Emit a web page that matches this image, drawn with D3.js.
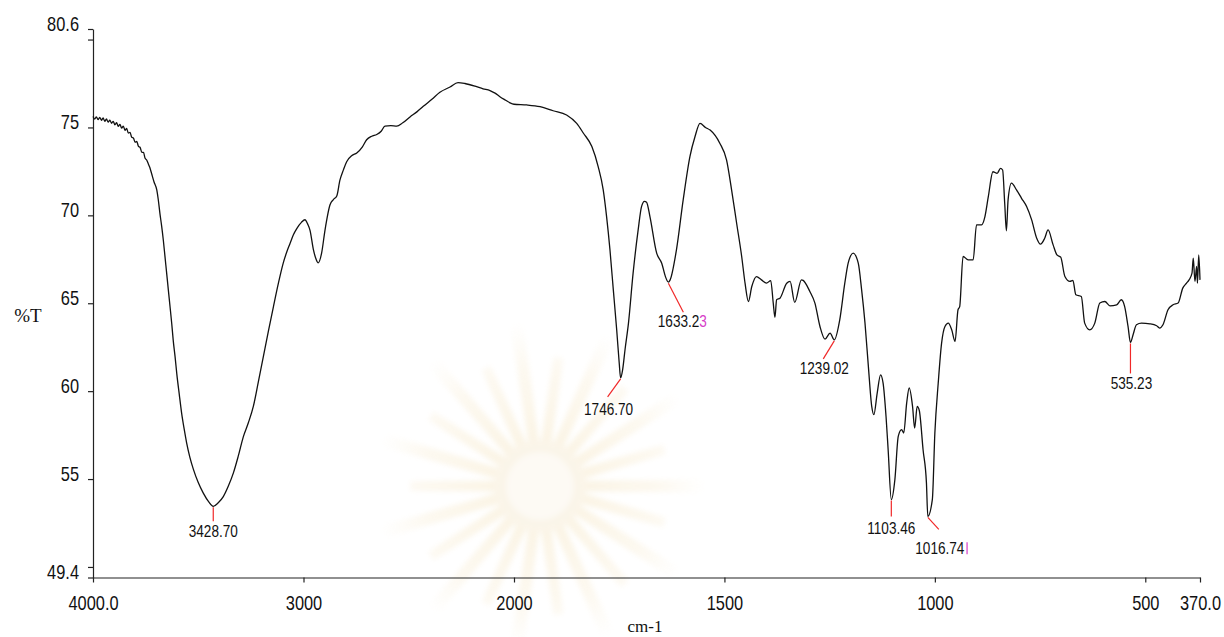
<!DOCTYPE html>
<html>
<head>
<meta charset="utf-8">
<script src="https://cdn.jsdelivr.net/npm/d3@7"></script>
<style>
  html, body { margin: 0; padding: 0; background: #ffffff; }
  svg { display: block; }
  .tick-label { font-family: "Liberation Sans", Arial, sans-serif; font-size: 20px; fill: #111; }
  .peak-label { font-family: "Liberation Sans", Arial, sans-serif; font-size: 17px; fill: #111; }
  .axis-title { font-family: "Liberation Serif", "DejaVu Serif", serif; fill: #111; }
</style>
</head>
<body>
<svg id="chart" width="1224" height="637"></svg>
<script>
// FT-IR spectrum: wavenumber (cm-1) vs. transmittance (%T)
const wavenumbers = [
  4000, 3992, 3984, 3976, 3968, 3960, 3952, 3944, 3936, 3928, 3920, 3912, 3904, 3896, 3888,
  3880, 3872, 3864, 3856, 3848, 3840, 3832, 3824, 3816, 3808, 3800, 3792, 3784, 3776, 3768,
  3760, 3753, 3745, 3737, 3730, 3721, 3710, 3697, 3690, 3682, 3674, 3666, 3658, 3650, 3642,
  3634, 3626, 3619, 3610, 3602, 3590, 3579, 3567, 3555, 3540, 3523, 3500, 3476, 3450, 3428.70,
  3405, 3381, 3357, 3333, 3310, 3286, 3262, 3238, 3215, 3191, 3167, 3143, 3120, 3096, 3080,
  3064, 3048, 3032, 3010, 2993, 2980, 2969, 2953, 2940, 2930, 2914, 2898, 2874, 2858, 2842,
  2827, 2810, 2795, 2770, 2747, 2720, 2700, 2676, 2652, 2630, 2613, 2585, 2557, 2530, 2494,
  2460, 2431, 2390, 2352, 2304, 2266, 2233, 2185, 2147, 2114, 2090, 2067, 2040, 2019, 2000,
  1970, 1938, 1907, 1875, 1851, 1835, 1815, 1800, 1788, 1780, 1772, 1764, 1756, 1750, 1746.70,
  1742, 1736, 1728, 1717, 1705, 1697, 1690, 1685, 1677, 1661, 1649, 1640, 1633.23, 1629, 1614,
  1598, 1582, 1570, 1558, 1545, 1534, 1511, 1495, 1483, 1471, 1459, 1451, 1443, 1435, 1424,
  1412, 1400, 1390, 1384, 1380, 1376, 1368, 1352, 1344, 1333, 1317, 1313, 1297, 1285, 1273,
  1261, 1249, 1239.02, 1226, 1214, 1206, 1194, 1182, 1174, 1166, 1158, 1150, 1145, 1137, 1129,
  1123, 1116, 1111, 1103.46, 1095, 1087, 1079, 1074, 1067, 1061, 1053, 1048, 1042, 1037, 1028,
  1020, 1016.74, 1006, 1000, 992, 984, 976, 968, 960, 952, 945, 941, 933, 921, 909,
  901, 889, 881, 873, 862, 852, 844, 839, 834, 830, 826, 818, 806, 794, 782,
  770, 758, 749, 739, 731, 719, 710, 701, 691, 679, 672, 665, 652, 644, 632,
  620, 608, 596, 584, 568, 557, 549, 541, 535.23, 529, 521, 509, 489, 473, 466,
  458, 446, 434, 422, 411, 402, 396, 389, 386, 382, 378, 376, 373, 370
];
const transmittance = [
  75.62, 75.48, 75.60, 75.44, 75.57, 75.41, 75.54, 75.35, 75.48, 75.30, 75.42, 75.24, 75.35, 75.15, 75.27,
  75.06, 75.18, 74.96, 75.08, 74.84, 74.94, 74.68, 74.72, 74.44, 74.40, 74.16, 74.20, 73.92, 73.86, 73.58,
  73.58, 73.26, 73.15, 72.92, 72.72, 72.35, 71.90, 71.45, 70.90, 70.10, 69.40, 68.60, 67.65, 66.70, 65.75,
  64.80, 63.85, 62.90, 61.95, 61.00, 59.80, 58.75, 57.85, 57.05, 56.25, 55.55, 54.80, 54.20, 53.70, 53.45,
  53.65, 54.00, 54.60, 55.35, 56.30, 57.40, 58.20, 59.15, 60.50, 61.95, 63.40, 64.80, 66.10, 67.30, 67.90,
  68.40, 68.90, 69.25, 69.60, 69.75, 69.50, 69.15, 68.05, 67.50, 67.30, 67.85, 69.15, 70.60, 70.90, 71.10,
  72.00, 72.60, 73.05, 73.40, 73.55, 73.90, 74.30, 74.50, 74.60, 74.80, 75.08, 75.10, 75.08, 75.25, 75.60,
  75.90, 76.20, 76.60, 77.00, 77.30, 77.55, 77.50, 77.35, 77.20, 77.10, 76.95, 76.75, 76.55, 76.40, 76.32,
  76.28, 76.18, 75.95, 75.71, 75.23, 74.67, 73.91, 72.77, 71.45, 69.93, 68.04, 65.76, 63.49, 61.60, 60.75,
  61.20, 62.40, 63.87, 66.71, 69.17, 70.50, 70.80, 70.75, 69.93, 67.85, 67.28, 66.50, 66.20, 66.33, 68.04,
  70.88, 73.34, 74.47, 75.23, 75.00, 74.85, 74.10, 73.15, 71.45, 69.55, 67.66, 66.14, 65.10, 65.95, 66.52,
  66.33, 66.14, 66.29, 65.01, 64.20, 65.20, 65.29, 66.14, 66.24, 65.05, 66.33, 66.30, 65.67, 65.01, 63.68,
  62.96, 63.30, 62.92, 64.06, 66.14, 67.28, 67.85, 67.28, 65.76, 63.87, 61.41, 59.13, 58.66, 59.89, 60.93,
  60.46, 58.56, 56.67, 53.83, 54.97, 57.43, 57.81, 57.62, 59.32, 60.18, 59.13, 57.90, 59.13, 58.90, 56.67,
  54.78, 52.88, 53.83, 57.62, 60.46, 62.73, 63.68, 63.87, 63.49, 62.83, 64.63, 64.81, 67.66, 67.47, 67.47,
  69.46, 69.46, 69.93, 71.06, 72.48, 72.39, 72.67, 72.58, 70.67, 69.12, 70.88, 71.83, 71.45, 70.97, 70.50,
  69.74, 68.70, 68.36, 68.70, 69.17, 68.32, 67.75, 67.62, 66.52, 66.24, 66.30, 65.48, 65.38, 63.87, 63.49,
  63.87, 65.01, 65.10, 64.85, 64.91, 65.20, 64.81, 63.68, 62.77, 63.21, 63.78, 63.87, 63.83, 63.72, 63.59,
  63.78, 64.63, 64.91, 65.01, 65.86, 66.14, 66.33, 66.71, 67.56, 66.24, 67.09, 66.14, 67.75, 66.33
];

// Axis ticks
const xTickValues = [4000, 3000, 2000, 1500, 1000, 500, 370];
const xTickLabels = ["4000.0", "3000", "2000", "1500", "1000", "500", "370.0"];
const yTickValues = [49.4, 50, 55, 60, 65, 70, 75, 80, 80.6];
const yTickLabels = ["49.4", "", "55", "60", "65", "70", "75", "", "80.6"];

// Labelled absorption bands
const peakWavenumbers = [3428.70, 1746.70, 1633.23, 1239.02, 1103.46, 1016.74, 535.23];
const peakLabels = ["3428.70", "1746.70", "1633.23", "1239.02", "1103.46", "1016.74", "535.23"];

// ---- layout ----
const svg = d3.select("#chart");
const narrow = 0.82;      // horizontal squeeze for the narrow label face

// wavenumber axis is expanded by a factor of two below 2000 cm-1
const x = d3.scaleLinear().domain([4000, 2000, 370]).range([93, 514, 1200]);
const y = d3.scaleLinear().domain([49.4, 80.6]).range([577.5, 29]);

// faint emblem in the background
const defs = svg.append("defs");
const grad = defs.append("radialGradient").attr("id", "rayFade")
  .attr("gradientUnits", "userSpaceOnUse").attr("cx", 0).attr("cy", 0).attr("r", 165);
grad.append("stop").attr("offset", "0.2").attr("stop-color", "#f2deb0");
grad.append("stop").attr("offset", "0.7").attr("stop-color", "#f8ecd2");
grad.append("stop").attr("offset", "1").attr("stop-color", "#ffffff");
defs.append("filter").attr("id", "soft")
  .append("feGaussianBlur").attr("stdDeviation", 2.5);
const emblem = svg.append("g")
  .attr("transform", "translate(540,486)")
  .attr("opacity", 0.34)
  .attr("filter", "url(#soft)");
const rayCount = 22;
for (let i = 0; i < rayCount; i++) {
  const a = (i / rayCount) * 2 * Math.PI;
  const w = 0.13;
  const r0 = 42, r1 = 165 + (i % 2 ? -35 : 0);
  const pts = [
    [r0 * Math.cos(a - w), r0 * Math.sin(a - w)],
    [r1 * Math.cos(a - w * 0.3), r1 * Math.sin(a - w * 0.3)],
    [r1 * Math.cos(a + w * 0.3), r1 * Math.sin(a + w * 0.3)],
    [r0 * Math.cos(a + w), r0 * Math.sin(a + w)]
  ];
  emblem.append("path")
    .attr("d", "M" + pts.map(p => p.join(",")).join("L") + "Z")
    .attr("fill", "url(#rayFade)");
}
emblem.append("circle").attr("r", 46).attr("fill", "#f3e2bf");
emblem.append("circle").attr("r", 34).attr("fill", "#faf1e0");

// y axis
const yAxis = d3.axisLeft(y)
  .tickValues(yTickValues)
  .tickSize(5)
  .tickSizeOuter(0)
  .tickPadding(9)
  .tickFormat((d, i) => yTickLabels[i]);
const gy = svg.append("g").attr("transform", "translate(93,0)").call(yAxis);
gy.selectAll("text")
  .attr("class", "tick-label").attr("font-family", null).attr("font-size", null)
  .attr("dy", "1").attr("x", -14 / narrow)
  .attr("transform", `scale(${narrow},1)`);
gy.selectAll("line, path").attr("stroke", "#222").attr("stroke-width", 1.2);

// x axis
const xAxis = d3.axisBottom(x)
  .tickValues(xTickValues)
  .tickSize(5)
  .tickSizeOuter(0)
  .tickPadding(13)
  .tickFormat((d, i) => xTickLabels[i]);
const gx = svg.append("g").attr("transform", "translate(0,577.5)").call(xAxis);
gx.selectAll("text")
  .attr("class", "tick-label").attr("font-family", null).attr("font-size", null)
  .attr("transform", `scale(${narrow},1)`);
gx.selectAll("line, path").attr("stroke", "#222").attr("stroke-width", 1.2);

// axis titles
svg.append("text").attr("class", "axis-title")
  .attr("x", 28).attr("y", 322).attr("text-anchor", "middle")
  .attr("font-size", 19).text("%T");
svg.append("text").attr("class", "axis-title")
  .attr("x", 645).attr("y", 632).attr("text-anchor", "middle")
  .attr("font-size", 17).text("cm-1");

// spectrum trace
const points = wavenumbers.map((w, i) => [w, transmittance[i]]);
const line = d3.line().x(d => x(d[0])).y(d => y(d[1])).curve(d3.curveMonotoneX);
svg.append("path")
  .datum(points)
  .attr("fill", "none")
  .attr("stroke", "#111")
  .attr("stroke-width", 1.3)
  .attr("stroke-linejoin", "round")
  .attr("d", line);

// peak markers: leader end offset and label offset from the band minimum
const peakLayout = [
  { lx: 0, ly: 15, tx: 0, ty: 31 },
  { lx: -13, ly: 19, tx: -12, ty: 37 },
  { lx: 15, ly: 30, tx: 14, ty: 45 },
  { lx: -11, ly: 19, tx: -10, ty: 34 },
  { lx: 0, ly: 17, tx: 0, ty: 34 },
  { lx: 11, ly: 13, tx: 12, ty: 38 },
  { lx: 0, ly: 31, tx: 1, ty: 47 }
];
const gp = svg.append("g");
peakWavenumbers.forEach((w, i) => {
  const idx = wavenumbers.indexOf(w);
  const px = x(w), py = y(transmittance[idx]);
  const L = peakLayout[i];
  gp.append("line")
    .attr("x1", px).attr("y1", py + 1)
    .attr("x2", px + L.lx).attr("y2", py + L.ly)
    .attr("stroke", "#f02828").attr("stroke-width", 1.2);
  const label = peakLabels[i];
  const t = gp.append("text").attr("class", "peak-label")
    .attr("transform", `translate(${px + L.tx},${py + L.ty}) scale(0.8,1)`)
    .attr("text-anchor", "middle");
  if (label === "1633.23") {
    // the last digit of this label is printed in magenta
    t.append("tspan").text(label.slice(0, -1));
    t.append("tspan").attr("fill", "#d63cc8").text(label.slice(-1));
  } else {
    t.text(label);
  }
  if (label === "1016.74") {
    const bb = t.node().getBBox();
    const bx = px + L.tx + bb.width * 0.8 / 2 + 2.5;
    gp.append("line")
      .attr("x1", bx).attr("x2", bx)
      .attr("y1", py + L.ty - 12).attr("y2", py + L.ty)
      .attr("stroke", "#d63cc8").attr("stroke-width", 1.2);
  }
});
</script>
</body>
</html>
